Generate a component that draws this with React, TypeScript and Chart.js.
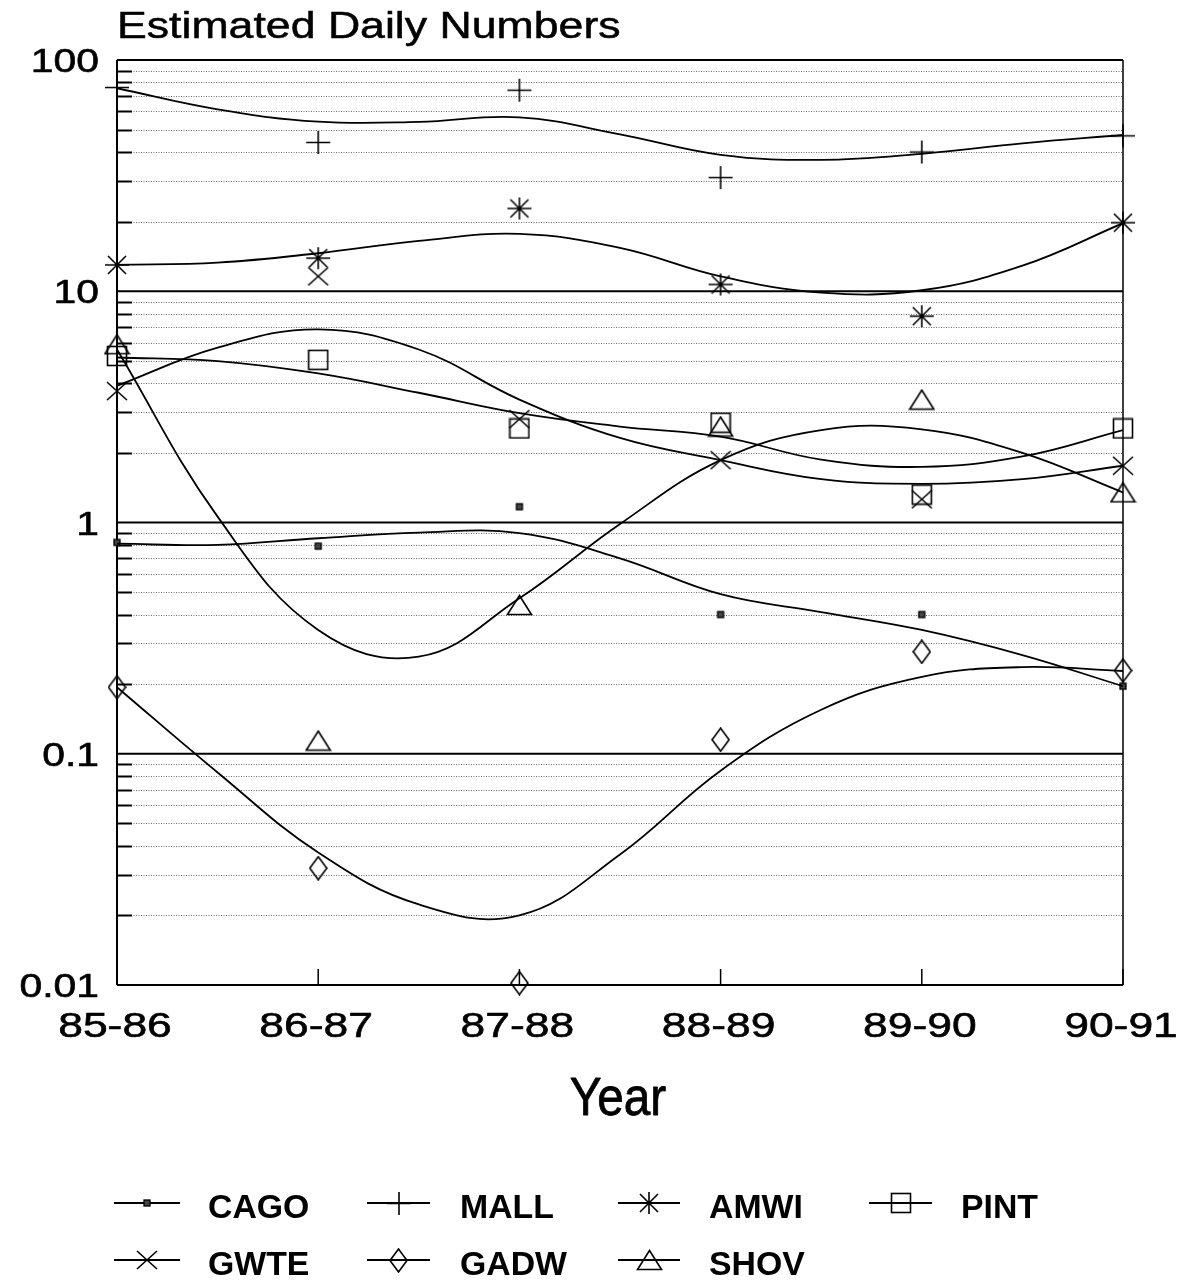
import React, { useEffect, useRef } from 'react';
import { Chart, registerables } from 'chart.js';

Chart.register(...registerables);

// ---------- data ----------
const TITLE = 'Estimated Daily Numbers';
const X_TITLE = 'Year';
const YEARS = ['85-86', '86-87', '87-88', '88-89', '89-90', '90-91'];
const YEAR_POS = [0, 1, 2, 3, 4, 5];
const FIT_POS = [0, 0.5, 1, 1.5, 2, 2.5, 3, 3.5, 4, 4.5, 5];

const Y_TICK_VALUES = [0.01, 0.1, 1, 10, 100];
const Y_TICK_LABELS = ['0.01', '0.1', '1', '10', '100'];
const Y_DECADES = [0.01, 0.1, 1, 10];
const Y_MINOR_MULTS = [2, 3, 4, 5, 6, 7, 8, 9];

const SPECIES = ['CAGO', 'MALL', 'AMWI', 'PINT', 'GWTE', 'GADW', 'SHOV'];

// observed daily numbers (markers)
const CAGO_OBS = [0.82, 0.79, 1.17, 0.4, 0.4, 0.196];
const MALL_OBS = [76, 44, 74, 31, 40, 47];
const AMWI_OBS = [13.0, 13.9, 22.8, 10.7, 7.8, 19.8];
const PINT_OBS = [5.25, 5.05, 2.55, 2.7, 1.32, 2.55];
const GWTE_OBS = [3.7, 11.6, 2.8, 1.86, 1.26, 1.76];
const GADW_OBS = [0.194, 0.032, 0.0102, 0.115, 0.276, 0.229];
const SHOV_OBS = [5.9, 0.114, 0.44, 2.6, 3.4, 1.35];

// fitted curves, read at half-season steps
const CAGO_FIT = [0.81, 0.8, 0.855, 0.905, 0.9, 0.7, 0.49, 0.41, 0.343, 0.267, 0.196];
const MALL_FIT = [75.5, 61.2, 54.1, 54, 56.5, 47.7, 38.9, 37.0, 39.3, 43.6, 47.4];
const AMWI_FIT = [13.0, 13.3, 14.6, 16.5, 17.7, 15.4, 11.6, 9.86, 10.1, 12.9, 19.7];
const PINT_FIT = [5.17, 4.99, 4.41, 3.64, 2.97, 2.6, 2.35, 1.87, 1.74, 1.93, 2.51];
const GWTE_FIT = [3.9, 5.7, 6.84, 5.6, 3.4, 2.32, 1.86, 1.54, 1.47, 1.54, 1.76];
const GADW_FIT = [0.194, 0.083, 0.0374, 0.0223, 0.02, 0.0367, 0.0845, 0.155, 0.215, 0.237, 0.228];
const SHOV_FIT = [5.6, 1.06, 0.343, 0.263, 0.47, 0.985, 1.86, 2.51, 2.53, 2.0, 1.35];

const OBS: Record<string, number[]> = {
  CAGO: CAGO_OBS, MALL: MALL_OBS, AMWI: AMWI_OBS, PINT: PINT_OBS,
  GWTE: GWTE_OBS, GADW: GADW_OBS, SHOV: SHOV_OBS,
};
const FIT: Record<string, number[]> = {
  CAGO: CAGO_FIT, MALL: MALL_FIT, AMWI: AMWI_FIT, PINT: PINT_FIT,
  GWTE: GWTE_FIT, GADW: GADW_FIT, SHOV: SHOV_FIT,
};

// ---------- drawing helpers ----------
const FONT = '"Liberation Sans", Arial, Helvetica, sans-serif';

function drawText(
  ctx: CanvasRenderingContext2D, text: string, x: number, y: number,
  size: number, weight: string, align: string, sx: number, thicken: number,
) {
  ctx.save();
  ctx.font = `${weight} ${size}px ${FONT}`;
  ctx.textAlign = 'left';
  ctx.textBaseline = 'alphabetic';
  ctx.fillStyle = '#000';
  ctx.strokeStyle = '#000';
  const w = ctx.measureText(text).width * sx;
  const x0 = align === 'center' ? x - w / 2 : align === 'right' ? x - w : x;
  ctx.translate(x0, y);
  ctx.scale(sx, 1);
  ctx.fillText(text, 0, 0);
  if (thicken > 0) {
    ctx.lineWidth = thicken;
    ctx.lineJoin = 'round';
    ctx.strokeText(text, 0, 0);
  }
  ctx.restore();
}

function makeMarker(kind: string): HTMLCanvasElement {
  const c = document.createElement('canvas');
  const setup = (w: number, h: number) => {
    c.width = w;
    c.height = h;
    const g = c.getContext('2d') as CanvasRenderingContext2D;
    g.strokeStyle = '#000';
    g.lineWidth = 1.6;
    g.lineJoin = 'miter';
    return g;
  };
  let g: CanvasRenderingContext2D;
  switch (kind) {
    case 'CAGO':
      g = setup(10, 10);
      g.fillStyle = '#444';
      g.fillRect(2, 2, 6, 6);
      g.lineWidth = 1.3;
      g.strokeRect(2, 2, 6, 6);
      break;
    case 'MALL':
      g = setup(26, 25);
      g.beginPath();
      g.moveTo(1, 12.5); g.lineTo(25, 12.5);
      g.moveTo(13, 1); g.lineTo(13, 24);
      g.stroke();
      break;
    case 'AMWI':
      g = setup(26, 24);
      g.beginPath();
      g.moveTo(13, 1); g.lineTo(13, 23);
      g.moveTo(1, 12); g.lineTo(25, 12);
      g.moveTo(4, 3); g.lineTo(22, 21);
      g.moveTo(22, 3); g.lineTo(4, 21);
      g.stroke();
      break;
    case 'PINT':
      g = setup(22, 22);
      g.strokeRect(1.5, 1.5, 19, 19);
      break;
    case 'GWTE':
      g = setup(22, 20);
      g.beginPath();
      g.moveTo(1, 1); g.lineTo(21, 19);
      g.moveTo(21, 1); g.lineTo(1, 19);
      g.stroke();
      break;
    case 'GADW':
      g = setup(19, 25);
      g.beginPath();
      g.moveTo(9.5, 1); g.lineTo(18, 12.5); g.lineTo(9.5, 24); g.lineTo(1, 12.5);
      g.closePath();
      g.stroke();
      break;
    default: // SHOV
      g = setup(27, 22);
      g.beginPath();
      g.moveTo(13.5, 1.5); g.lineTo(25.5, 20.5); g.lineTo(1.5, 20.5);
      g.closePath();
      g.stroke();
      break;
  }
  return c;
}

export default function App() {
  const ref = useRef<HTMLCanvasElement | null>(null);

  useEffect(() => {
    const canvas = ref.current;
    if (!canvas) return;
    const markers: Record<string, HTMLCanvasElement> = {};
    SPECIES.forEach((s) => { markers[s] = makeMarker(s); });

    const datasets: any[] = [];
    SPECIES.forEach((s) => {
      datasets.push({
        label: s + ' fit',
        data: FIT_POS.map((x, i) => ({ x, y: FIT[s][i] })),
        borderColor: '#000',
        borderWidth: 1.8,
        pointRadius: 0,
        fill: false,
        tension: 0.4,
      });
    });
    SPECIES.forEach((s) => {
      datasets.push({
        label: s,
        data: YEAR_POS.map((x, i) => ({ x, y: OBS[s][i] })),
        showLine: false,
        pointStyle: markers[s],
        pointRadius: 10,
        borderColor: '#000',
        backgroundColor: 'rgba(0,0,0,0)',
        clip: false,
      });
    });

    const gridPlugin = {
      id: 'gridPlugin',
      beforeDatasetsDraw(chart: any) {
        const ctx: CanvasRenderingContext2D = chart.ctx;
        const { left, right, top, bottom } = chart.chartArea;
        const ys = chart.scales.y;
        const xs = chart.scales.x;
        ctx.save();
        // minor dotted lines + inner ticks
        Y_DECADES.forEach((d) => {
          Y_MINOR_MULTS.forEach((m) => {
            const v = d * m;
            const py = Math.round(ys.getPixelForValue(v)) + 0.5;
            ctx.strokeStyle = '#6a6a6a';
            ctx.lineWidth = 1;
            ctx.setLineDash([1, 1.5]);
            ctx.beginPath();
            ctx.moveTo(left + 14, py);
            ctx.lineTo(right, py);
            ctx.stroke();
            ctx.setLineDash([]);
            ctx.strokeStyle = '#000';
            ctx.lineWidth = 2;
            ctx.beginPath();
            ctx.moveTo(left, py);
            ctx.lineTo(left + 15, py);
            ctx.stroke();
          });
        });
        // major solid lines
        Y_TICK_VALUES.forEach((v) => {
          if (v === ys.min || v === ys.max) return;
          const py = ys.getPixelForValue(v);
          ctx.strokeStyle = '#000';
          ctx.lineWidth = 2.2;
          ctx.beginPath();
          ctx.moveTo(left, py);
          ctx.lineTo(right, py);
          ctx.stroke();
        });
        // inner x ticks
        YEAR_POS.forEach((p) => {
          const px = xs.getPixelForValue(p);
          ctx.strokeStyle = '#000';
          ctx.lineWidth = 1.5;
          ctx.beginPath();
          ctx.moveTo(px, bottom);
          ctx.lineTo(px, bottom - 16);
          ctx.stroke();
        });
        // frame
        ctx.strokeStyle = '#000';
        ctx.lineWidth = 2;
        ctx.beginPath();
        ctx.moveTo(left, top); ctx.lineTo(right, top);
        ctx.moveTo(left, top); ctx.lineTo(left, bottom);
        ctx.moveTo(left, bottom); ctx.lineTo(right, bottom);
        ctx.stroke();
        ctx.lineWidth = 1.5;
        ctx.beginPath();
        ctx.moveTo(right, top); ctx.lineTo(right, bottom);
        ctx.stroke();
        ctx.restore();
      },
    };

    const textPlugin = {
      id: 'textPlugin',
      afterDraw(chart: any) {
        const ctx: CanvasRenderingContext2D = chart.ctx;
        const { left, right } = chart.chartArea;
        const ys = chart.scales.y;
        const xs = chart.scales.x;
        drawText(ctx, TITLE, left, 38, 36, '400', 'left', 1.24, 0.5);
        Y_TICK_VALUES.forEach((v, i) => {
          const py = ys.getPixelForValue(v);
          drawText(ctx, Y_TICK_LABELS[i], 99, py + 12, 33.5, '400', 'right', 1.22, 0.6);
        });
        YEAR_POS.forEach((p, i) => {
          const px = xs.getPixelForValue(p);
          drawText(ctx, YEARS[i], px - 2, 1037, 35, '400', 'center', 1.27, 0.6);
        });
        drawText(ctx, X_TITLE, (left + right) / 2 - 2, 1115, 53, '400', 'center', 0.9, 0.8);

        // legend
        const colLine = [[114, 180], [367, 430], [618, 680], [869, 932]];
        const colText = [208, 460, 709, 961];
        const rowY = [1203, 1260];
        SPECIES.forEach((s, i) => {
          const r = Math.floor(i / 4);
          const c = i % 4;
          const y = rowY[r];
          const [x1, x2] = colLine[c];
          ctx.save();
          ctx.strokeStyle = '#000';
          ctx.lineWidth = 2;
          ctx.beginPath();
          ctx.moveTo(x1, y);
          ctx.lineTo(x2, y);
          ctx.stroke();
          const mk = markers[s];
          const cx = (x1 + x2) / 2;
          ctx.drawImage(mk, Math.round(cx - mk.width / 2), Math.round(y - mk.height / 2));
          ctx.restore();
          drawText(ctx, s, colText[c], y + 15, 32.5, 'bold', 'left', 1.04, 0);
        });
      },
    };

    const chart = new Chart(canvas, {
      type: 'line',
      data: { datasets },
      options: {
        responsive: false,
        animation: false,
        devicePixelRatio: 1,
        layout: { padding: { left: 117, top: 60, right: 75, bottom: 300 } },
        plugins: {
          legend: { display: false },
          title: { display: false },
          tooltip: { enabled: false },
        },
        scales: {
          x: { type: 'linear', min: 0, max: 5, display: false },
          y: { type: 'logarithmic', min: 0.01, max: 100, display: false },
        },
      },
      plugins: [gridPlugin, textPlugin],
    } as any);

    return () => chart.destroy();
  }, []);

  return (
    <div style={{ position: 'fixed', left: 0, top: 0, width: 1198, height: 1285, background: '#fff' }}>
      <canvas ref={ref} width={1198} height={1285} />
    </div>
  );
}
